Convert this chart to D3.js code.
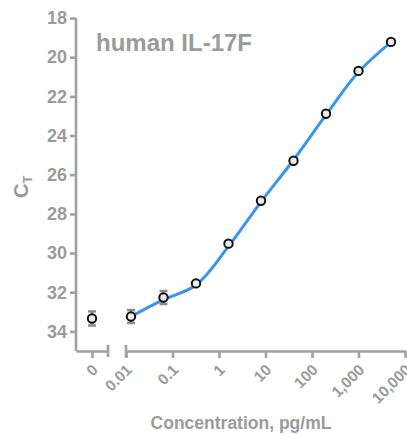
<!DOCTYPE html>
<html>
<head>
<meta charset="utf-8">
<script src="https://cdn.jsdelivr.net/npm/d3@7"></script>
<style>
  body { margin: 0; background: #fff; }
  text { font-family: "Liberation Sans", Arial, sans-serif; font-weight: bold; fill: #9b9b9b; }
</style>
</head>
<body>
<svg id="drawing_region"></svg>
<script>
// 5-fold dilution series, plus the zero (blank) sample
const concentrations = [0, 0.0128, 0.064, 0.32, 1.6, 8, 40, 200, 1000, 5000];
const ctValues = [33.34, 33.24, 32.27, 31.55, 29.52, 27.33, 25.29, 22.89, 20.70, 19.22];
const ctErrors = [0.36, 0.33, 0.33, 0.1, 0.1, 0.1, 0.1, 0.1, 0.1, 0.1];

// fitted standard curve at the standards
const fitConc = [0.0128, 0.064, 0.32, 1.6, 8, 40, 200, 1000, 5000];
const fitCt = [33.24, 32.38, 31.63, 29.66, 27.39, 25.25, 22.95, 20.76, 19.23];

const yTicks = [18, 20, 22, 24, 26, 28, 30, 32, 34];
const xTicks = [0.01, 0.1, 1, 10, 100, 1000, 10000];
const xTickLabels = ['0.01', '0.1', '1', '10', '100', '1,000', '10,000'];

const data = concentrations.map((c, i) => ({ x: c, y: ctValues[i], err: ctErrors[i] }));
const fit = fitConc.map((c, i) => ({ x: c, y: fitCt[i] }));

const config = {
    width: 407,
    height: 434,
    axisColor: '#a0a0a0',
    lineColor: '#3797ee'
};

const svg = d3.select('#drawing_region')
    .attr('width', config.width)
    .attr('height', config.height);

const yscale = d3.scaleLinear().domain([18, 35]).range([18, 351]);
const xscale = d3.scaleLog().domain([0.01, 10000]).range([126, 405]);
const zscale = d3.scaleLinear().domain([-1, 1]).range([76, 108]);

const xpos = d => d.x === 0 ? zscale(0) : xscale(d.x);

// y axis
const yaxis = d3.axisLeft(yscale).tickValues(yTicks).tickSize(6).tickPadding(3).tickSizeOuter(0);
const yaxis_group = svg.append('g')
    .attr('transform', `translate(${zscale.range()[0]}, 0)`)
    .call(yaxis);
yaxis_group.select('.domain').attr('d', `M0,${yscale(18)}V${yscale(35)}`);
yaxis_group.selectAll('text').style('font-size', '18px');

// x axis, zero segment
const zaxis = d3.axisBottom(zscale).tickValues([0]).tickSize(7).tickSizeOuter(0).tickFormat(() => '');
svg.append('g')
    .attr('transform', `translate(0, ${yscale(35)})`)
    .call(zaxis);

// x axis, log segment
const xaxis = d3.axisBottom(xscale).tickValues(xTicks).tickSize(7).tickSizeOuter(0).tickFormat(() => '');
svg.append('g')
    .attr('transform', `translate(0, ${yscale(35)})`)
    .call(xaxis);

// break caps
svg.selectAll('line.cap')
    .data([zscale.range()[1], xscale.range()[0]])
    .join('line')
    .attr('class', 'cap')
    .attr('x1', d => d).attr('x2', d => d)
    .attr('y1', yscale(35) - 6).attr('y2', yscale(35) + 6);

svg.selectAll('.domain, .tick line, line.cap')
    .attr('stroke', config.axisColor)
    .attr('stroke-width', 2.6);

// rotated x tick labels
const xlabels = [{ x: 0, label: '0' }].concat(xTicks.map((t, i) => ({ x: t, label: xTickLabels[i] })));
svg.selectAll('text.xtick')
    .data(xlabels)
    .join('text')
    .attr('class', 'xtick')
    .attr('transform', d => `translate(${xpos(d) + 3}, 367) rotate(-45)`)
    .attr('text-anchor', 'end')
    .attr('dy', '0.35em')
    .style('font-size', '15.5px')
    .text(d => d.label);

// fitted curve
const line = d3.line()
    .x(d => xscale(d.x))
    .y(d => yscale(d.y))
    .curve(d3.curveCatmullRom.alpha(0.5));
svg.append('path')
    .datum(fit)
    .attr('d', line)
    .attr('fill', 'none')
    .attr('stroke', config.lineColor)
    .attr('stroke-width', 3);

// error bars
const eb = svg.selectAll('g.err')
    .data(data)
    .join('g')
    .attr('class', 'err')
    .attr('stroke', '#8c8c8c')
    .attr('stroke-width', 2.5);
eb.append('line')
    .attr('x1', xpos).attr('x2', xpos)
    .attr('y1', d => yscale(d.y - d.err)).attr('y2', d => yscale(d.y + d.err));
eb.append('line')
    .attr('x1', d => xpos(d) - 4).attr('x2', d => xpos(d) + 4)
    .attr('y1', d => yscale(d.y - d.err)).attr('y2', d => yscale(d.y - d.err));
eb.append('line')
    .attr('x1', d => xpos(d) - 4).attr('x2', d => xpos(d) + 4)
    .attr('y1', d => yscale(d.y + d.err)).attr('y2', d => yscale(d.y + d.err));

// points
svg.selectAll('circle')
    .data(data)
    .join('circle')
    .attr('cx', xpos)
    .attr('cy', d => yscale(d.y))
    .attr('r', 4.2)
    .attr('fill', '#ececec')
    .attr('stroke', '#111')
    .attr('stroke-width', 2);

// title and axis titles
svg.append('text')
    .attr('x', 96).attr('y', 51)
    .style('font-size', '24px')
    .text('human IL-17F');

svg.append('text')
    .attr('x', 241).attr('y', 429)
    .attr('text-anchor', 'middle')
    .style('font-size', '17.5px')
    .text('Concentration, pg/mL');

const ylab = svg.append('text')
    .attr('transform', 'translate(28, 198) rotate(-90)')
    .style('font-size', '20px');
ylab.append('tspan').text('C');
ylab.append('tspan').attr('dy', 4).style('font-size', '13px').text('T');
</script>
</body>
</html>
